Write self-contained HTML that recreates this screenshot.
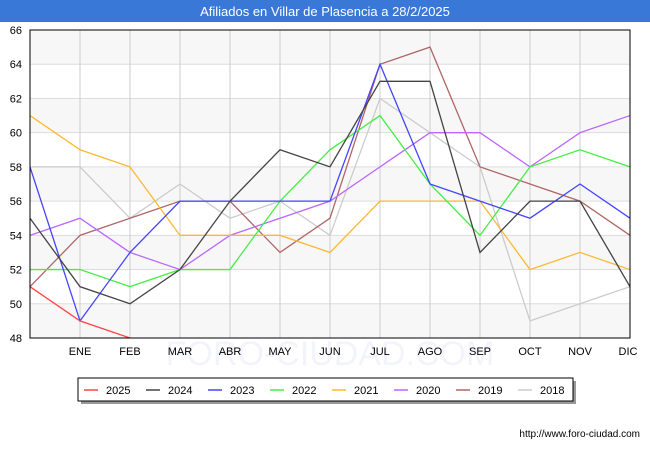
<!DOCTYPE html>
<html><head><meta charset="utf-8"><style>
body{margin:0;width:650px;height:450px;background:#fff;font-family:"Liberation Sans",sans-serif;overflow:hidden}
</style></head><body>
<svg id="c" width="650" height="450" xmlns="http://www.w3.org/2000/svg" font-family="Liberation Sans, sans-serif">
<rect x="0" y="0" width="650" height="22" fill="#3a78d8"/>
<text x="325" y="16" text-anchor="middle" fill="#fff" font-size="13">Afiliados en Villar de Plasencia a 28/2/2025</text>
<g id="grid"></g>
<text x="330" y="365" text-anchor="middle" font-size="34" fill="#f3f4fb">FORO-CIUDAD.COM</text>
<g id="labels"></g>
<g id="lines"></g>
<rect x="30" y="30" width="600" height="308" fill="none" stroke="#000"/>
<g id="legend">
<rect x="81" y="381" width="495" height="23" fill="#999"/>
<rect x="78" y="378" width="495" height="23" fill="#fff" stroke="#000"/>
</g>
<text x="640" y="437" text-anchor="end" font-size="10" fill="#000">http://www.foro-ciudad.com</text>
</svg>
<script>
const months=["","ENE","FEB","MAR","ABR","MAY","JUN","JUL","AGO","SEP","OCT","NOV","DIC"];
const yTicks=[48,50,52,54,56,58,60,62,64,66];
const seriesNames=["2025","2024","2023","2022","2021","2020","2019","2018"];
const colors=["#ff4444","#444444","#4444ff","#44ee44","#ffb733","#bb66ff","#b06666","#cccccc"];
const s2025=[51,49,48];
const s2024=[55,51,50,52,56,59,58,63,63,53,56,56,51];
const s2023=[58,49,53,56,56,56,56,64,57,56,55,57,55];
const s2022=[52,52,51,52,52,56,59,61,57,54,58,59,58];
const s2021=[61,59,58,54,54,54,53,56,56,56,52,53,52];
const s2020=[54,55,53,52,54,55,56,58,60,60,58,60,61];
const s2019=[51,54,55,56,56,53,55,64,65,58,57,56,54];
const s2018=[58,58,55,57,55,56,54,62,60,58,49,50,51];
const all=[s2025,s2024,s2023,s2022,s2021,s2020,s2019,s2018];
const NS="http://www.w3.org/2000/svg";
const X=i=>30+i*50, Y=v=>338-(v-48)*308/18;
function mk(t,a,p){const e=document.createElementNS(NS,t);for(const k in a)e.setAttribute(k,a[k]);p.appendChild(e);return e;}
const g=document.getElementById('grid');
const lb=document.getElementById('labels');
for(let i=0;i<yTicks.length-1;i++){if(i%2==0){const r=mk('rect',{x:30,y:Y(yTicks[i+1]),width:600,height:Y(yTicks[i])-Y(yTicks[i+1]),fill:'#f7f7f7'},g);

}}
yTicks.forEach(v=>{const l=mk('line',{x1:30,x2:630,y1:Y(v),y2:Y(v),stroke:'#ddd'},g);


const t=mk('text',{x:22,y:Y(v)+4,'text-anchor':'end','font-size':11},lb);t.textContent=v;

});
months.forEach((m,i)=>{if(i>0){const l=mk('line',{x1:X(i),x2:X(i),y1:30,y2:338,stroke:'#ccc'},g);

}
const t=mk('text',{x:X(i)-(i==12?2:0),y:355,'text-anchor':'middle','font-size':11},lb);t.textContent=m;

});
const L=document.getElementById('lines');
for(let s=all.length-1;s>=0;s--){const pts=all[s].map((v,i)=>X(i)+','+Y(v)).join(' ');
const p=mk('polyline',{points:pts,fill:'none',stroke:colors[s],'stroke-width':1.3},L);

}
const lg=document.getElementById('legend');
seriesNames.forEach((n,i)=>{const x=84+i*62;
const l=mk('line',{x1:x,x2:x+14,y1:390,y2:390,stroke:colors[i],'stroke-width':1.5},lg);


const t=mk('text',{x:x+22,y:394,'font-size':11},lg);t.textContent=n;

});
</script>
</body></html>
